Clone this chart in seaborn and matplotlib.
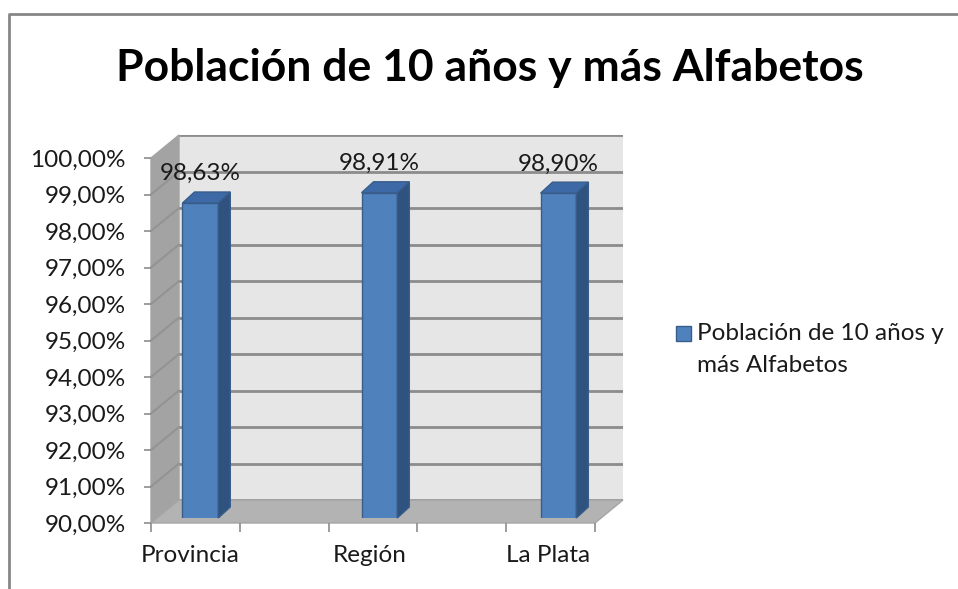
import numpy as np
import pandas as pd
import matplotlib
matplotlib.use('Agg')
import matplotlib.pyplot as plt
import seaborn as sns
from matplotlib.patches import Polygon, Rectangle
from matplotlib.lines import Line2D

# datos del gráfico
categorias = ['Provincia', 'Región', 'La Plata']
valores = [98.63, 98.91, 98.90]
serie = 'Población de 10 años y más Alfabetos'
y_ticks = list(range(90, 101))

sns.set_theme(style='white')
plt.rcParams['font.family'] = ['Lato', 'DejaVu Sans']

W, H = 958, 589
AZUL = '#4f81bd'
AZUL_BORDE = '#385d8a'
AZUL_LADO = '#30527f'
AZUL_TECHO = '#3d6aa6'
GRIS_LINEA = '#8c8c8c'
TXT = 17.5


def rect(l, t, r, b):
    return [l / W, 1 - b / H, (r - l) / W, (b - t) / H]


def fig_pts(fig, pts):
    # display -> fraccion de figura
    return fig.transFigure.inverted().transform(np.asarray(pts))


fig = plt.figure(figsize=(W / 100, H / 100), dpi=100)
fig.patch.set_facecolor('white')
fig.patch.set_edgecolor('white')
fig.patch.set_linewidth(0)

xlim = (-0.22, 2.26)
ylim = (90, 100)

# pared del fondo
ax_back = fig.add_axes(rect(179, 135, 623, 500), zorder=0)
ax_back.set_facecolor('#e6e6e6')
ax_back.set_xlim(*xlim)
ax_back.set_ylim(*ylim)
ax_back.set_yticks(y_ticks)
ax_back.set_xticks([])
ax_back.tick_params(left=False, labelleft=False)
ax_back.grid(axis='y', color=GRIS_LINEA, lw=2)
for s in ax_back.spines.values():
    s.set_visible(False)

# barras
df = pd.DataFrame({'categoria': categorias, 'valor': valores})
ax_bars = fig.add_axes(rect(161, 153, 605, 518), zorder=2)
sns.barplot(data=df, x='categoria', y='valor', color=AZUL, saturation=1,
            width=0.2, edgecolor=AZUL_BORDE, linewidth=1, ax=ax_bars)
ax_bars.set_xlim(*xlim)
ax_bars.set_ylim(*ylim)
ax_bars.axis('off')

# ejes del frente (marcas y etiquetas)
ax = fig.add_axes(rect(151, 158, 595, 523), zorder=3)
ax.patch.set_alpha(0)
ax.set_xlim(*xlim)
ax.set_ylim(*ylim)
for s in ax.spines.values():
    s.set_visible(False)
ax.set_yticks(y_ticks)
ax.set_yticklabels([f'{v:.2f}%'.replace('.', ',') for v in y_ticks],
                   fontsize=TXT, color='#1a1a1a')
ax.set_xticks(range(len(categorias)))
ax.set_xticklabels(categorias, fontsize=TXT, color='#1a1a1a')
ax.set_xticks(np.linspace(xlim[0], xlim[1], 6), minor=True)
ax.tick_params(axis='y', left=True, length=5, width=1.2, color=GRIS_LINEA,
               direction='out', pad=13)
ax.tick_params(axis='x', which='major', bottom=True, length=0, pad=16)
ax.tick_params(axis='x', which='minor', bottom=True, length=6.5, width=1.2,
               color=GRIS_LINEA, direction='out')

# pared lateral y piso (perspectiva)
f = ax.transData.transform
b = ax_back.transData.transform
lado = [f((xlim[0], 90)), f((xlim[0], 100)), b((xlim[0], 100)), b((xlim[0], 90))]
piso = [f((xlim[0], 90)), f((xlim[1], 90)), b((xlim[1], 90)), b((xlim[0], 90))]
fig.add_artist(Polygon(fig_pts(fig, lado), closed=True, transform=fig.transFigure,
                       facecolor='#a3a3a3', edgecolor='#a3a3a3', lw=1, zorder=1))
fig.add_artist(Polygon(fig_pts(fig, piso), closed=True, transform=fig.transFigure,
                       facecolor='#b3b3b3', edgecolor='#a6a6a6', lw=1, zorder=1))
for v in y_ticks[1:-1]:
    pts = fig_pts(fig, [f((xlim[0], v)), b((xlim[0], v))])
    fig.add_artist(Line2D(pts[:, 0], pts[:, 1], transform=fig.transFigure,
                          color='#939393', lw=1.5, zorder=1.5))

# caras laterales y superiores de las barras
d = np.array([12, 11])
t = ax_bars.transData.transform
for p, v in zip(ax_bars.patches, valores):
    x0, x1 = p.get_x(), p.get_x() + p.get_width()
    lado_b = [t((x1, 90)), t((x1, v)), t((x1, v)) + d, t((x1, 90)) + d]
    techo = [t((x0, v)), t((x1, v)), t((x1, v)) + d, t((x0, v)) + d]
    for pts, col in [(lado_b, AZUL_LADO), (techo, AZUL_TECHO)]:
        ax_bars.add_patch(Polygon(fig_pts(fig, pts), closed=True,
                                  transform=fig.transFigure, clip_on=False,
                                  facecolor=col, edgecolor=AZUL_BORDE, lw=1))
    ax_bars.annotate(f'{v:.2f}%'.replace('.', ','), xy=(p.get_x() + p.get_width() / 2, v),
                     xytext=(0, 21), textcoords='offset points', ha='center',
                     va='center', fontsize=TXT, color='#1a1a1a')

# titulo
fig.text(490 / W, 1 - 68 / H, serie, ha='center', va='center', fontsize=32,
         fontweight='bold', color='black')

# leyenda
fig.add_artist(Rectangle((676 / W, 1 - 341 / H), 15 / W, 15 / H,
                         transform=fig.transFigure, facecolor=AZUL,
                         edgecolor=AZUL_BORDE, lw=1))
fig.text(697 / W, 1 - 333 / H, 'Población de 10 años y', ha='left', va='center',
         fontsize=TXT, color='#1a1a1a')
fig.text(697 / W, 1 - 365 / H, 'más Alfabetos', ha='left', va='center',
         fontsize=TXT, color='#1a1a1a')

# borde exterior del gráfico (solo se ven arriba e izquierda)
borde_x = [9 / W, 9 / W, 1.02]
borde_y = [-0.02, 1 - 14 / H, 1 - 14 / H]
fig.add_artist(Line2D(borde_x, borde_y, transform=fig.transFigure,
                      color='#868686', lw=2, solid_capstyle='butt'))

fig.savefig('out.png', dpi=100)
